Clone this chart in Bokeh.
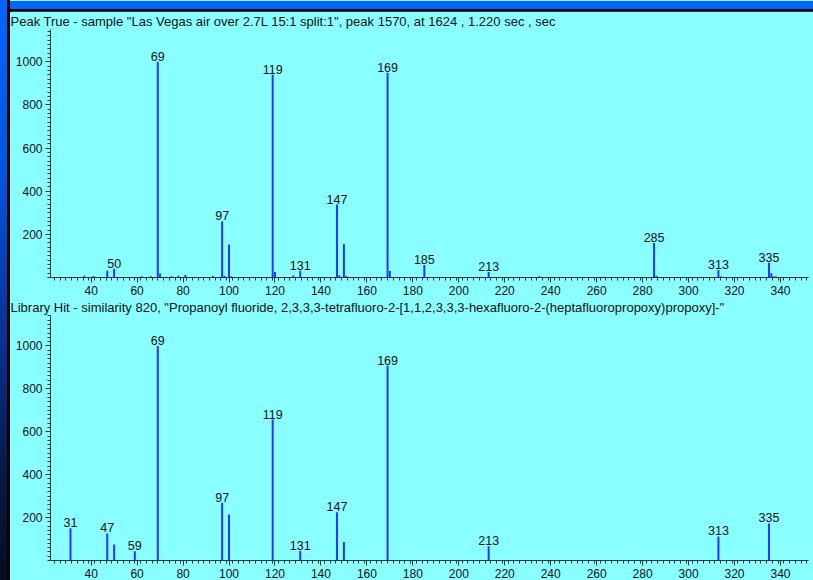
from bokeh.plotting import figure
from bokeh.models import ColumnDataSource, FixedTicker, Range1d, Div, GlobalInlineStyleSheet
from bokeh.layouts import column, row
from bokeh.core.properties import value
from bokeh.embed import file_html
from bokeh.resources import INLINE

# ---------------- data ----------------
title_top = 'Peak True - sample "Las Vegas air over 2.7L 15:1 split:1", peak 1570, at 1624 , 1.220 sec , sec'
title_bot = 'Library Hit - similarity 820, "Propanoyl fluoride, 2,3,3,3-tetrafluoro-2-[1,1,2,3,3,3-hexafluoro-2-(heptafluoropropoxy)propoxy]-"'

top_mz = [37, 41, 47, 50, 62, 66, 69, 70, 75, 78, 81, 93, 97, 98, 100, 101,
          119, 120, 128, 131, 147, 148, 150, 151, 169, 170, 185, 213, 235, 263,
          285, 286, 313, 314, 335, 336, 337, 338]
top_int = [8, 7, 31, 40, 6, 6, 1000, 18, 6, 8, 12, 7, 260, 8, 153, 6,
           940, 25, 9, 31, 338, 10, 155, 7, 949, 30, 58, 26, 6, 4,
           160, 8, 35, 6, 68, 20, 6, 5]
top_labels = [50, 69, 97, 119, 131, 147, 169, 185, 213, 285, 313, 335]

bot_mz = [31, 47, 50, 59, 69, 97, 100, 119, 131, 147, 150, 169, 213, 313, 335]
bot_int = [150, 126, 74, 43, 1000, 269, 214, 657, 44, 225, 86, 908, 66, 112, 173]
bot_labels = [31, 47, 59, 69, 97, 119, 131, 147, 169, 213, 313, 335]

x_ticks = list(range(40, 341, 20))
y_ticks = [200, 400, 600, 800, 1000]

# ---------------- style ----------------
CYAN = "#8affff"
BAR = "#2238ff"
TXT = "#111111"
FONT = "Liberation Sans"


def make_panel(title, mz, inten, labels, height, ymax):
    p = figure(width=803, height=height, output_backend="svg", toolbar_location=None,
               x_range=Range1d(22.3, 352.2), y_range=Range1d(0, ymax),
               min_border_left=40, min_border_right=5, min_border_top=0, min_border_bottom=0)
    p.title.text = title
    p.title.align = "left"
    p.title.offset = -40
    p.title.standoff = 1
    p.title.text_font = FONT
    p.title.text_font_size = "13px"
    p.title.text_font_style = "normal"
    p.title.text_color = TXT
    p.background_fill_color = CYAN
    p.border_fill_color = CYAN
    p.outline_line_color = None
    p.grid.visible = False

    src = ColumnDataSource(dict(x=mz, y0=[0] * len(mz), y1=inten))
    p.segment(x0="x", y0="y0", x1="x", y1="y1", source=src, line_color=BAR, line_width=2)

    lab_y = [inten[mz.index(m)] for m in labels]
    lsrc = ColumnDataSource(dict(x=labels, y=lab_y, t=[str(m) for m in labels]))
    p.text(x="x", y="y", text="t", source=lsrc, text_align="center", text_baseline="bottom",
           y_offset=-1, text_font=value(FONT), text_font_size=value("12.5px"), text_color=TXT)

    p.xaxis.ticker = FixedTicker(ticks=x_ticks, minor_ticks=[24 + 2.5 * i for i in range(132)])
    p.yaxis.ticker = FixedTicker(ticks=y_ticks, minor_ticks=list(range(0, int(ymax), 20)))
    for ax in (p.xaxis[0], p.yaxis[0]):
        ax.axis_line_color = "#333333"
        ax.major_tick_line_color = "#333333"
        ax.minor_tick_line_color = "#333333"
        ax.major_tick_out = 5
        ax.major_tick_in = 0
        ax.minor_tick_out = 3
        ax.minor_tick_in = 0
        ax.major_label_standoff = 3
        ax.major_label_text_font = FONT
        ax.major_label_text_font_size = "12px"
        ax.major_label_text_color = TXT
    return p


p1 = make_panel(title_top, top_mz, top_int, top_labels, 286, 1150)
p2 = make_panel(title_bot, bot_mz, bot_int, bot_labels, 283, 1142)

left_strip = Div(width=10, height=580, margin=0,
                 text='<div style="width:10px;height:580px;box-sizing:border-box;'
                      'border-right:3px solid #000;border-top:0;'
                      'background:linear-gradient(to bottom,#0066ff 0%,#0055e0 30%,#0a2f8f 60%,#061a4a 80%,#040c22 100%);"></div>')
top_strip = Div(width=803, height=11, margin=0,
                text='<div style="width:803px;height:11px;box-sizing:border-box;'
                     'border-bottom:3px solid #000;background:#0066ff;"></div>')

css = GlobalInlineStyleSheet(css="html, body { background: #8affff; }")

layout = row(left_strip, column(top_strip, p1, p2, spacing=0), spacing=0, stylesheets=[css])

open("out.html", "w").write(file_html(layout, INLINE))
